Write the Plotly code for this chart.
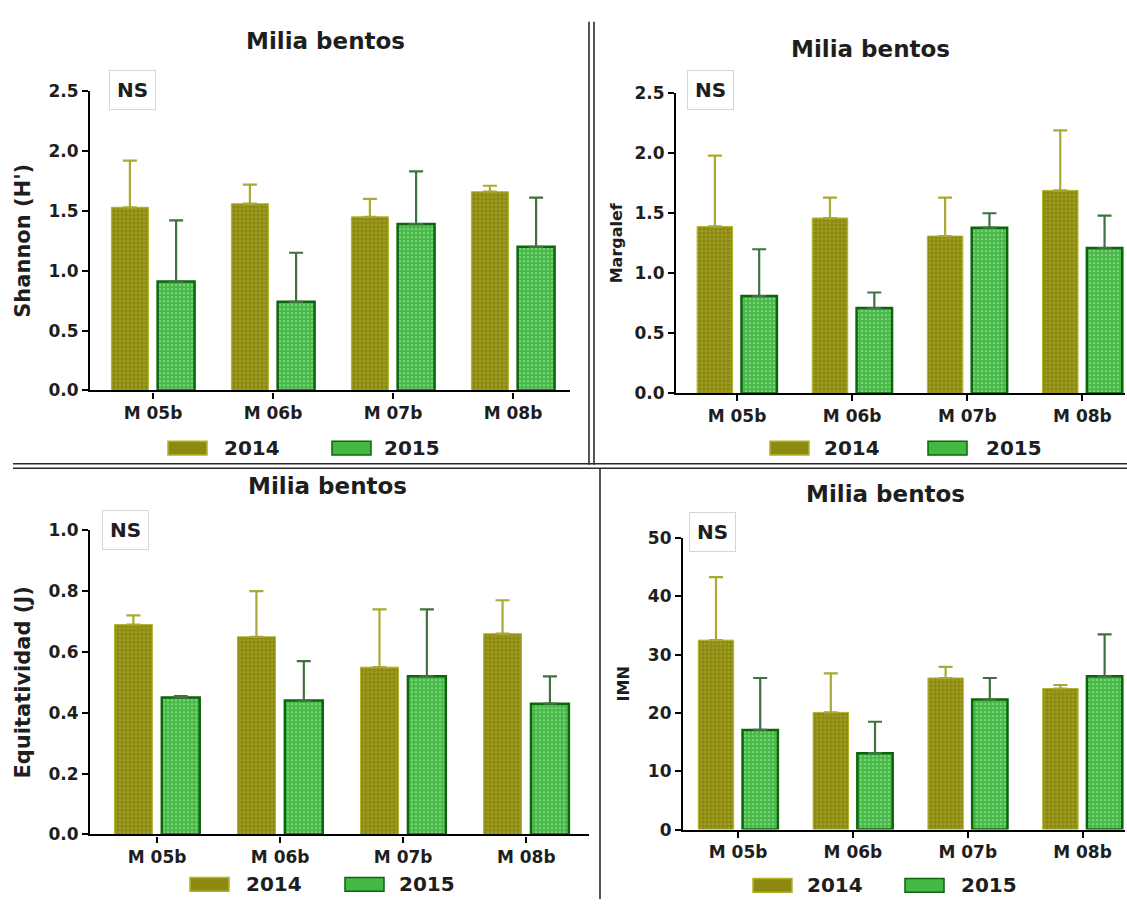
import plotly.graph_objects as go
from plotly.subplots import make_subplots

W, H = 1127, 909
FONT = "DejaVu Sans, Liberation Sans, Arial, sans-serif"
INK = "#1e1e1e"

# ---- data -------------------------------------------------------------
sites = ["M 05b", "M 06b", "M 07b", "M 08b"]
years = ["2014", "2015"]

shannon_2014 = [1.53, 1.56, 1.45, 1.66]
shannon_2014_sd = [0.39, 0.16, 0.15, 0.05]
shannon_2015 = [0.91, 0.74, 1.39, 1.20]
shannon_2015_sd = [0.51, 0.41, 0.44, 0.41]

margalef_2014 = [1.39, 1.46, 1.31, 1.69]
margalef_2014_sd = [0.59, 0.17, 0.32, 0.50]
margalef_2015 = [0.81, 0.71, 1.38, 1.21]
margalef_2015_sd = [0.39, 0.13, 0.12, 0.27]

equit_2014 = [0.69, 0.65, 0.55, 0.66]
equit_2014_sd = [0.03, 0.15, 0.19, 0.11]
equit_2015 = [0.45, 0.44, 0.52, 0.43]
equit_2015_sd = [0.005, 0.13, 0.22, 0.09]

imn_2014 = [32.5, 20.1, 26.0, 24.2]
imn_2014_sd = [10.8, 6.7, 1.9, 0.6]
imn_2015 = [17.1, 13.1, 22.3, 26.3]
imn_2015_sd = [8.9, 5.4, 3.7, 7.2]

panel_title = "Milia bentos"
signif_label = "NS"

# ---- styles -----------------------------------------------------------
STYLE = {
    "2014": dict(bg="#8c8a10", fg="#b4b440", line="#b3b32a", lw=1,
                 err="#a9a935"),
    "2015": dict(bg="#43b843", fg="#b5eab5", line="#0c640c", lw=2.5,
                 err="#3f723f"),
}

# pixel geometry of each panel (axis box, title, NS box, legend row)
panels = [
    dict(row=1, col=1, means=(shannon_2014, shannon_2015),
         sds=(shannon_2014_sd, shannon_2015_sd),
         ytitle="Shannon (H')", ytsize=21, standoff=12,
         yrange=[0, 2.5], dtick=0.5, fmt=".1f",
         box=(90, 570, 83, 389), xrange=[-0.525, 3.475],
         title_xy=(325, 32), ns_xy=(132, 82),
         leg_y=448, leg=[(168, 222), (332, 382)]),
    dict(row=1, col=2, means=(margalef_2014, margalef_2015),
         sds=(margalef_2014_sd, margalef_2015_sd),
         ytitle="Margalef", ytsize=16, standoff=8,
         yrange=[0, 2.5], dtick=0.5, fmt=".1f",
         box=(676, 1125, 85, 392), xrange=[-0.53, 3.37],
         title_xy=(870, 40), ns_xy=(710, 82),
         leg_y=448, leg=[(770, 822), (928, 984)]),
    dict(row=2, col=1, means=(equit_2014, equit_2015),
         sds=(equit_2014_sd, equit_2015_sd),
         ytitle="Equitatividad (J)", ytsize=21, standoff=12,
         yrange=[0, 1.0], dtick=0.2, fmt=".1f",
         box=(90, 589, 532, 843), xrange=[-0.545, 3.51],
         title_xy=(327, 487), ns_xy=(125, 532),
         leg_y=894, leg=[(190, 244), (345, 397)]),
    dict(row=2, col=2, means=(imn_2014, imn_2015),
         sds=(imn_2014_sd, imn_2015_sd),
         ytitle="IMN", ytsize=16, standoff=14,
         yrange=[0, 50], dtick=10, fmt="d",
         box=(683, 1125, 540, 838), xrange=[-0.48, 3.37],
         title_xy=(885, 495), ns_xy=(712, 534),
         leg_y=895, leg=[(753, 805), (905, 959)]),
]


def px(x):
    return x / W


def py(y):
    return 1 - y / H


fig = make_subplots(rows=2, cols=2)

for p in panels:
    for yr, vals, sd in zip(years, p["means"], p["sds"]):
        st = STYLE[yr]
        fig.add_trace(
            go.Bar(
                x=sites, y=vals, name=yr, showlegend=False,
                marker=dict(
                    color=st["bg"],
                    line=dict(color=st["line"], width=st["lw"]),
                    pattern=dict(shape=".", bgcolor=st["bg"], fgcolor=st["fg"],
                                 size=4, solidity=0.35),
                ),
                error_y=dict(type="data", array=sd, arrayminus=[0] * len(sd),
                             symmetric=False, color=st["err"], thickness=2.2,
                             width=7),
            ),
            row=p["row"], col=p["col"],
        )

    x0, x1, ytop, ybot = p["box"]
    fig.update_xaxes(
        domain=[px(x0), px(x1)], range=p["xrange"],
        showline=True, linecolor="black", linewidth=2.2,
        ticks="outside", ticklen=6, tickwidth=2, tickcolor="black",
        tickfont=dict(family=FONT, size=17, color=INK, weight="bold"),
        showgrid=False, zeroline=False, fixedrange=True,
        row=p["row"], col=p["col"],
    )
    fig.update_yaxes(
        domain=[py(ybot), py(ytop)], range=p["yrange"], dtick=p["dtick"],
        tickformat=p["fmt"],
        showline=True, linecolor="black", linewidth=2.2,
        ticks="outside", ticklen=6, tickwidth=2, tickcolor="black",
        tickfont=dict(family=FONT, size=17, color=INK, weight="bold"),
        title=dict(text=p["ytitle"], standoff=p["standoff"],
                   font=dict(family=FONT, size=p["ytsize"], color=INK,
                             weight="bold")),
        showgrid=False, zeroline=False, fixedrange=True,
        row=p["row"], col=p["col"],
    )

    tx, ty = p["title_xy"]
    fig.add_annotation(
        x=px(tx), y=py(ty), xref="paper", yref="paper", showarrow=False,
        xanchor="center", yanchor="middle",
        text=panel_title,
        font=dict(family=FONT, size=23, color=INK, weight="bold"),
    )
    nx, ny = p["ns_xy"]
    fig.add_annotation(
        x=px(nx), y=py(ny), xref="paper", yref="paper", showarrow=False,
        xanchor="center", yanchor="middle",
        text=signif_label,
        font=dict(family=FONT, size=20, color=INK, weight="bold"),
        bordercolor="#d6d6d6", borderwidth=1, borderpad=7,
    )

    # legend row: swatch + year label
    for yr, (sx, tx2) in zip(years, p["leg"]):
        st = STYLE[yr]
        fig.add_shape(
            type="rect", xref="paper", yref="paper",
            x0=px(sx), x1=px(sx + 39), y0=py(p["leg_y"] + 7), y1=py(p["leg_y"] - 7),
            fillcolor=st["bg"], line=dict(color=st["line"], width=1.5),
        )
        fig.add_annotation(
            x=px(tx2), y=py(p["leg_y"]), xref="paper", yref="paper",
            xanchor="left", yanchor="middle", showarrow=False, text=yr,
            font=dict(family=FONT, size=20, color=INK, weight="bold"),
        )

# panel dividers
DIV = dict(color="#2a2a2a", width=1.6)
for xv in (589, 594):
    fig.add_shape(type="line", xref="paper", yref="paper",
                  x0=px(xv), x1=px(xv), y0=py(12), y1=py(465), line=DIV)
for yv in (464, 468.5):
    fig.add_shape(type="line", xref="paper", yref="paper",
                  x0=px(13), x1=1, y0=py(yv), y1=py(yv), line=DIV)
fig.add_shape(type="line", xref="paper", yref="paper",
              x0=px(600), x1=px(600), y0=py(469), y1=0, line=DIV)

fig.update_layout(
    width=W, height=H,
    margin=dict(l=0, r=0, t=0, b=0),
    paper_bgcolor="white", plot_bgcolor="white",
    barmode="group", bargap=0.23, bargroupgap=0.2,
    font=dict(family=FONT, color=INK),
    showlegend=False,
)

fig.write_html("out.html")
